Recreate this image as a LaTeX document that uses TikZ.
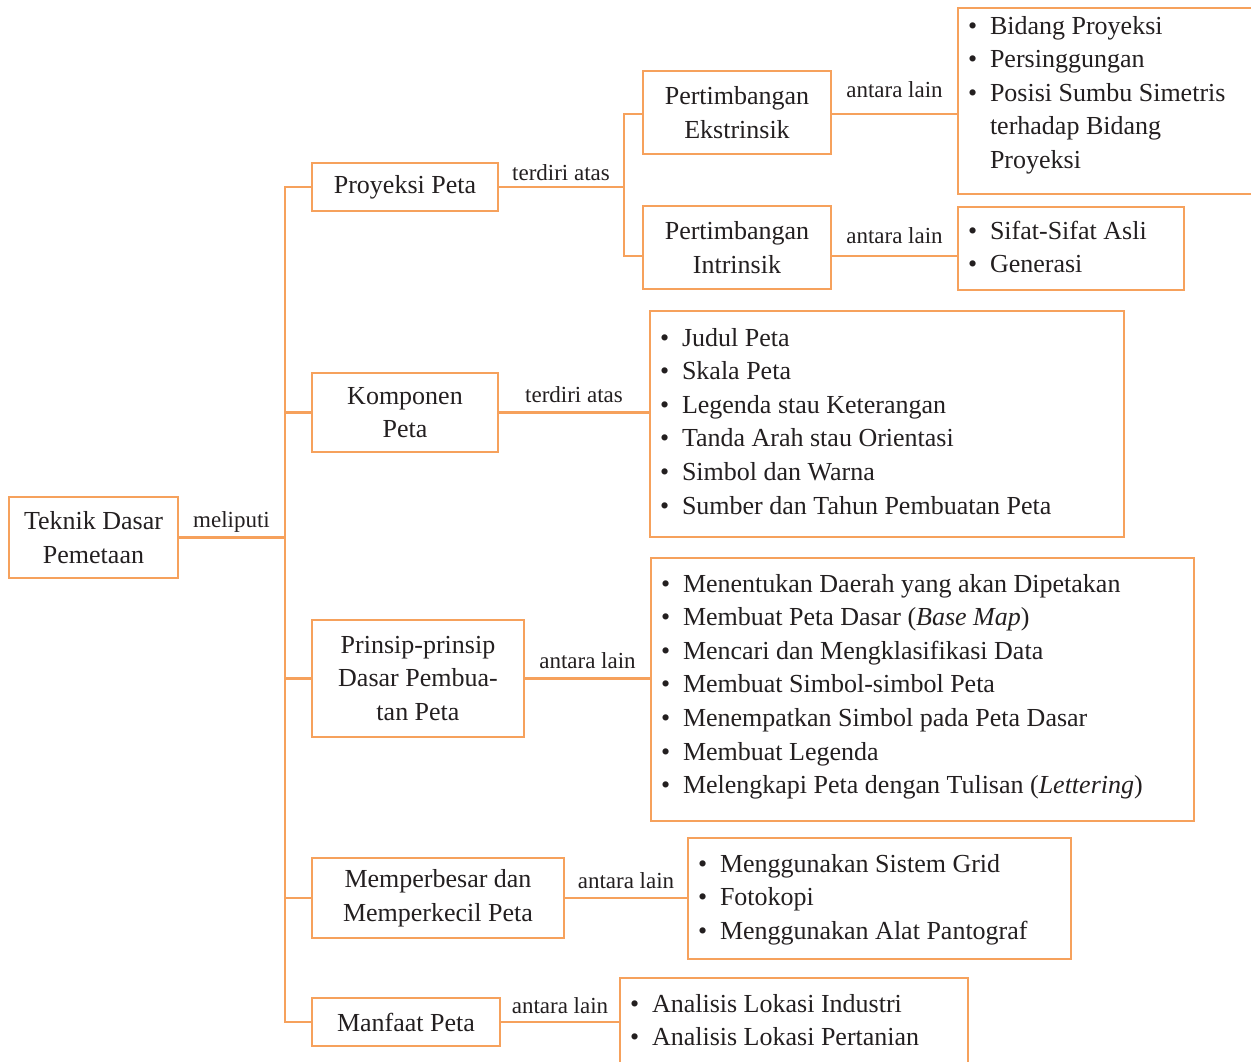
\documentclass[tikz,border=0pt]{standalone}
\usepackage{fontspec}
\setmainfont{Liberation Serif}
\definecolor{orln}{RGB}{246,161,92}
\definecolor{txc}{RGB}{35,31,32}
\tikzset{
 box/.style={draw=orln, line width=2.8pt, align=center, font=\fontsize{26}{33.6}\selectfont, text=txc, anchor=north west, inner sep=0pt, outer sep=0pt},
 lbox/.style={draw=orln, line width=2.8pt, font=\fontsize{26}{33.6}\selectfont, text=txc, anchor=north west, inner sep=0pt, outer sep=0pt},
 conn/.style={draw=orln, line width=2.8pt},
 lab/.style={font=\fontsize{23}{28}\selectfont, text=txc, anchor=base, midway, inner sep=0pt},
}
\newcommand\bi[1]{\hspace*{10pt}\makebox[22pt][l]{\textbullet}\strut#1\par}
\newcommand\ci[1]{\hspace*{32pt}\strut#1\par}
\newcommand\lst[4]{\parbox[c][#2][t]{#1}{\vspace*{#3}#4}}
\begin{document}
\begin{tikzpicture}[x=1pt,y=-1pt]
\useasboundingbox (0,0) rectangle (1251,1062);
% main boxes
\node[box, minimum width=169, minimum height=81] (root) at (9,497) {Teknik Dasar\\Pemetaan};
\node[box, minimum width=186, minimum height=48] (proy) at (312,163) {Proyeksi Peta};
\node[box, minimum width=188, minimum height=83] (ekst) at (643,71) {Pertimbangan\\Ekstrinsik};
\node[box, minimum width=188, minimum height=83] (intr) at (643,206) {Pertimbangan\\Intrinsik};
\node[box, minimum width=186, minimum height=79] (komp) at (312,373) {Komponen\\Peta};
\node[box, minimum width=212, minimum height=117] (prin) at (312,620) {Prinsip-prinsip\\Dasar Pembua-\\tan Peta};
\node[box, minimum width=252, minimum height=80] (memp) at (312,858) {Memperbesar dan\\Memperkecil Peta};
\node[box, minimum width=188, minimum height=48] (manf) at (312,998) {Manfaat Peta};
% list boxes
\node[lbox] (bid) at (958,8) {\lst{320pt}{186pt}{2.5pt}{\bi{Bidang Proyeksi}\bi{Persinggungan}\bi{Posisi Sumbu Simetris}\ci{terhadap Bidang}\ci{Proyeksi}}};
\node[lbox] (sif) at (958,207) {\lst{226pt}{83pt}{8.5pt}{\bi{Sifat-Sifat Asli}\bi{Generasi}}};
\node[lbox] (jud) at (650,311) {\lst{474pt}{226pt}{11.5pt}{\bi{Judul Peta}\bi{Skala Peta}\bi{Legenda stau Keterangan}\bi{Tanda Arah stau Orientasi}\bi{Simbol dan Warna}\bi{Sumber dan Tahun Pembuatan Peta}}};
\node[lbox] (pl) at (651,558) {\lst{543pt}{263pt}{10.5pt}{\bi{Menentukan Daerah yang akan Dipetakan}\bi{Membuat Peta Dasar (\textit{Base Map})}\bi{Mencari dan Mengklasifikasi Data}\bi{Membuat Simbol-simbol Peta}\bi{Menempatkan Simbol pada Peta Dasar}\bi{Membuat Legenda}\bi{Melengkapi Peta dengan Tulisan (\textit{Lettering})}}};
\node[lbox] (ml) at (688,838) {\lst{383pt}{121pt}{10.5pt}{\bi{Menggunakan Sistem Grid}\bi{Fotokopi}\bi{Menggunakan Alat Pantograf}}};
\node[lbox] (fl) at (620,978) {\lst{348pt}{120pt}{10.5pt}{\bi{Analisis Lokasi Industri}\bi{Analisis Lokasi Pertanian}}};
% connectors
\coordinate (tk) at (285,537.5);
\coordinate (st) at (624,187);
\draw[conn] (root.east) -- node[lab, yshift=10.5pt]{meliputi} (root.east -| tk);
\draw[conn] (proy.west) -| (tk) |- (manf.west);
\draw[conn] (komp.west) -- (komp.west -| tk);
\draw[conn] (prin.west) -- (prin.west -| tk);
\draw[conn] (memp.west) -- (memp.west -| tk);
\draw[conn] (proy.east) -- node[lab, yshift=6.5pt]{terdiri atas} (proy.east -| st);
\draw[conn] ([yshift=-1.5pt]ekst.west) -| (st) |- ([yshift=-8.5pt]intr.west);
\draw[conn] ([yshift=-1.5pt]ekst.east) -- node[lab, yshift=16pt]{antara lain} ([yshift=-1.5pt]ekst.east -| bid.west);
\draw[conn] ([yshift=-8.5pt]intr.east) -- node[lab, yshift=13pt]{antara lain} ([yshift=-8.5pt]intr.east -| sif.west);
\draw[conn] (komp.east) -- node[lab, yshift=10pt]{terdiri atas} (komp.east -| jud.west);
\draw[conn] (prin.east) -- node[lab, yshift=10pt]{antara lain} (prin.east -| pl.west);
\draw[conn] (memp.east) -- node[lab, yshift=10pt]{antara lain} (memp.east -| ml.west);
\draw[conn] (manf.east) -- node[lab, yshift=8.5pt]{antara lain} (manf.east -| fl.west);
\end{tikzpicture}
\end{document}
